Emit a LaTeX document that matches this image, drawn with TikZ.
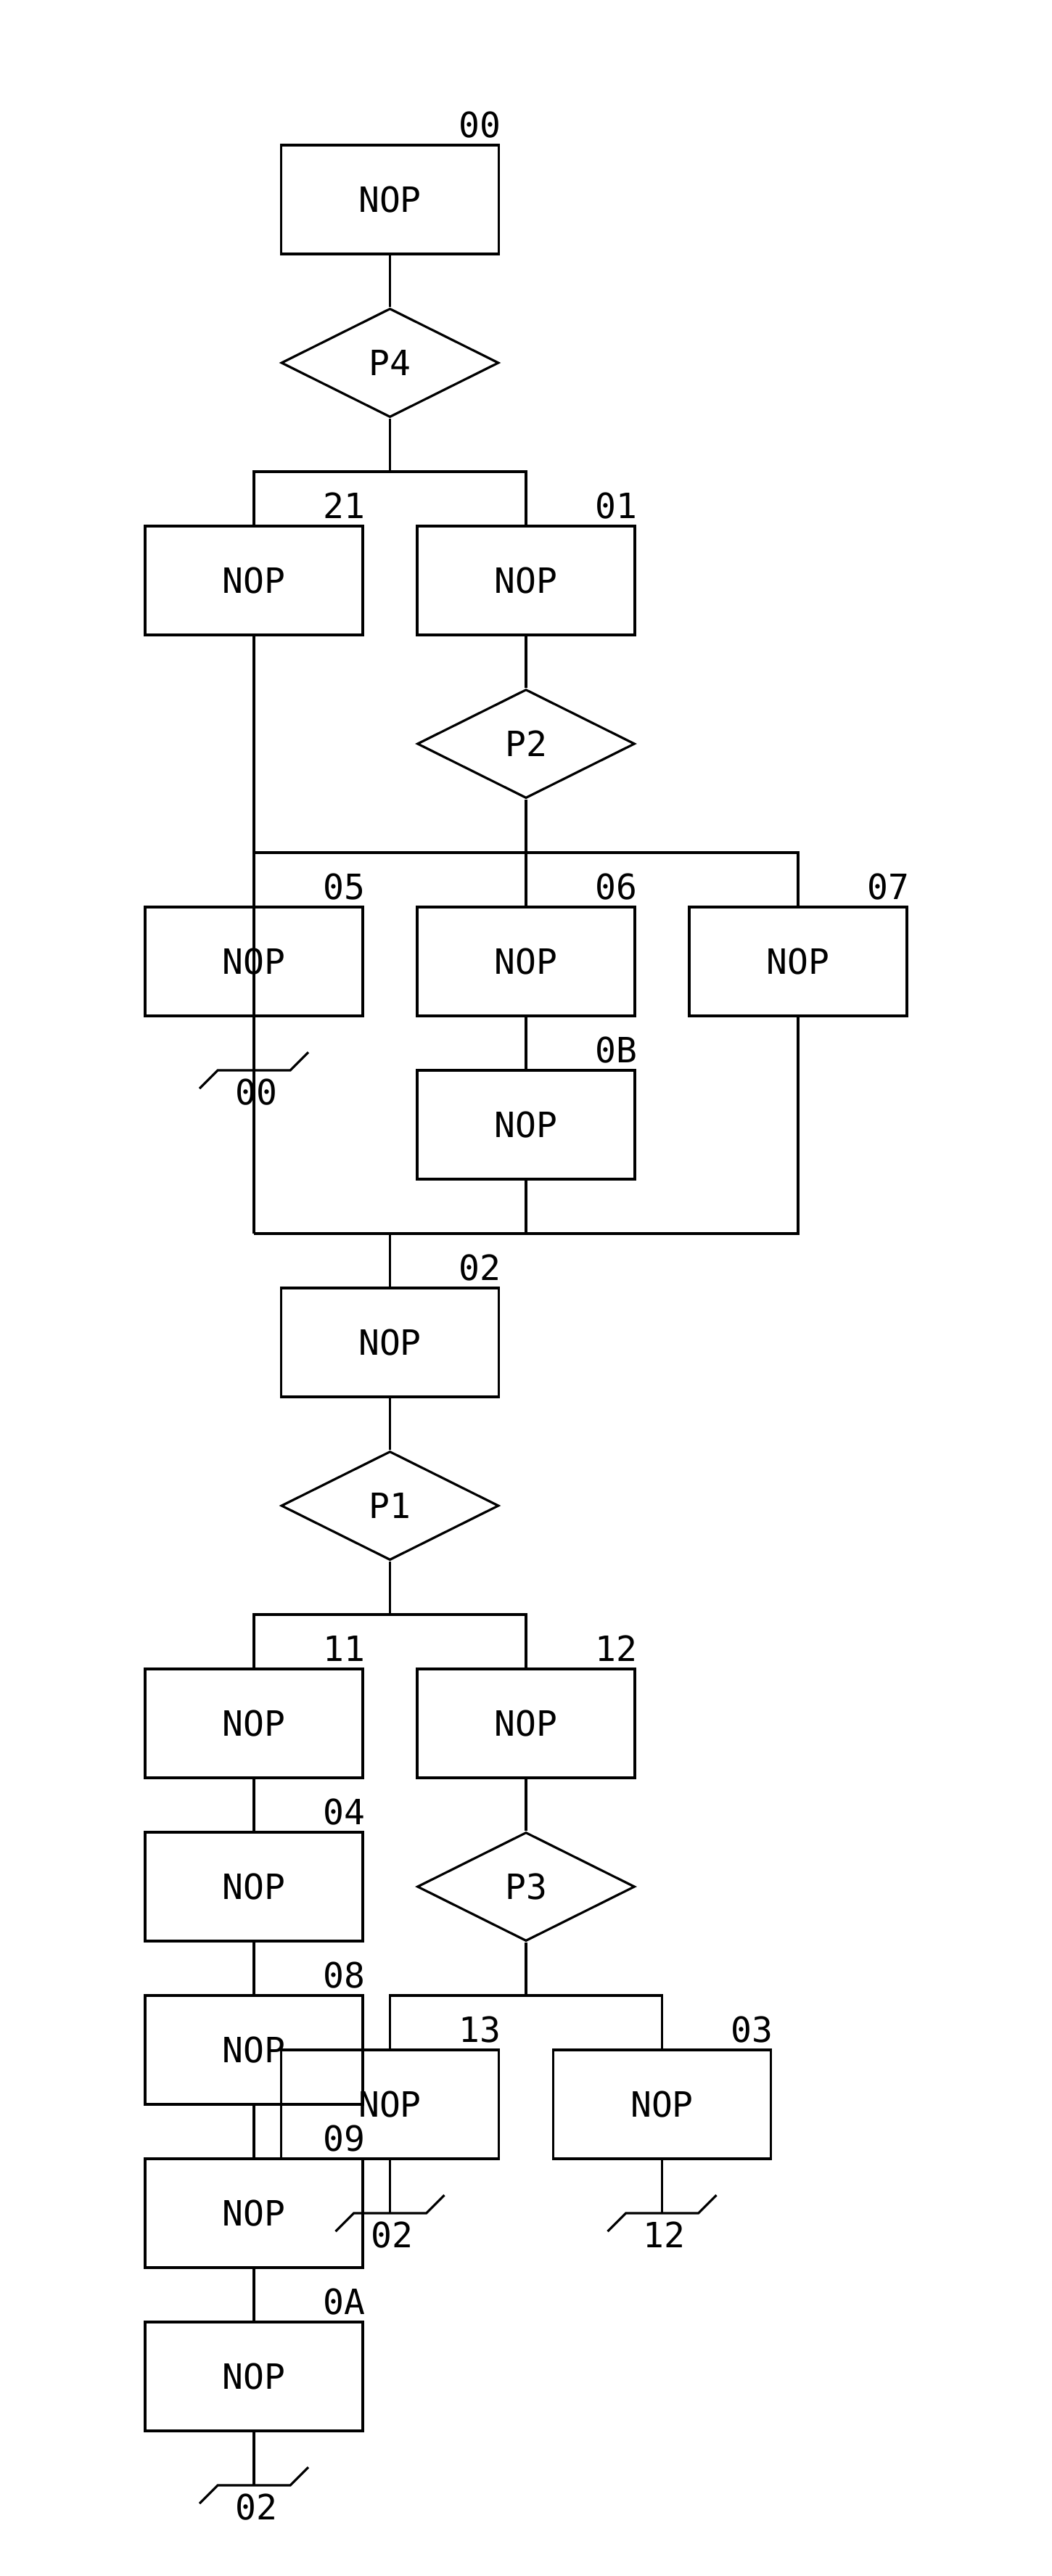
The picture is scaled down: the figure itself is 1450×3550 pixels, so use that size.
\documentclass[tikz,border=0pt]{standalone}
\usepackage{fontspec}
\setmonofont{DejaVu Sans Mono}
\usetikzlibrary{shapes.geometric,calc}
\newcommand\myconn[3]{%
  \coordinate (#1) at #2;
  \draw ($(#1)+(-75,25)$) -- ($(#1)+(-50,0)$) -- ($(#1)+(50,0)$) -- ($(#1)+(75,-25)$);
  \node[conlbl] (#1l) at ($(#1)+(3,30)$) {#3};}
\newcommand\boxlbl[2]{\node[lbl] (l#1) at ($(#1.north east)+(3,-9)$) {#2};}
\begin{document}
\begin{tikzpicture}[x=0.5pt,y=-0.5pt, line width=1.6pt,
  every node/.style={font=\ttfamily\fontsize{24}{28}\selectfont},
  box/.style={draw, rectangle, minimum width=150pt, minimum height=75pt, inner sep=0pt},
  dec/.style={draw, diamond, minimum width=150pt, minimum height=75pt, inner sep=0pt},
  lbl/.style={anchor=base east, inner sep=0pt},
  conlbl/.style={inner sep=0pt}]
\useasboundingbox (0,0) rectangle (1450,3550);
\node[box] (b00) at (537.5,275) {NOP};
\node[dec] (p4) at (537.5,500) {P4};
\node[box] (b21) at (350,800) {NOP};
\node[box] (b01) at (725,800) {NOP};
\node[dec] (p2) at (725,1025) {P2};
\node[box] (b05) at (350,1325) {NOP};
\node[box] (b06) at (725,1325) {NOP};
\node[box] (b07) at (1100,1325) {NOP};
\node[box] (b0B) at (725,1550) {NOP};
\node[box] (b02) at (537.5,1850) {NOP};
\node[dec] (p1) at (537.5,2075) {P1};
\node[box] (b11) at (350,2375) {NOP};
\node[box] (b12) at (725,2375) {NOP};
\node[box] (b04) at (350,2600) {NOP};
\node[dec] (p3) at (725,2600) {P3};
\node[box] (b08) at (350,2825) {NOP};
\node[box] (b13) at (537.5,2900) {NOP};
\node[box] (b03) at (912.5,2900) {NOP};
\node[box] (b09) at (350,3050) {NOP};
\node[box] (b0A) at (350,3275) {NOP};
\boxlbl{b00}{00}
\boxlbl{b21}{21}
\boxlbl{b01}{01}
\boxlbl{b05}{05}
\boxlbl{b06}{06}
\boxlbl{b07}{07}
\boxlbl{b0B}{0B}
\boxlbl{b02}{02}
\boxlbl{b11}{11}
\boxlbl{b12}{12}
\boxlbl{b04}{04}
\boxlbl{b08}{08}
\boxlbl{b13}{13}
\boxlbl{b03}{03}
\boxlbl{b09}{09}
\boxlbl{b0A}{0A}
\coordinate (y1) at (0,650);
\coordinate (y2) at (0,1175);
\coordinate (y3) at (0,1700);
\coordinate (y4) at (0,2225);
\coordinate (y5) at (0,2750);
\draw (b00) -- (p4);
\draw (p4.south) -- (p4.south |- y1);
\draw (b21.north) -- (b21.north |- y1) -- (b01.north |- y1) -- (b01.north);
\draw (b01) -- (p2);
\draw (p2.south) -- (b06.north);
\draw (b21.south) -- (b21.south |- y3);
\draw (b05.north |- y2) -- (b07.north |- y2) -- (b07.north);
\draw (b06) -- (b0B);
\draw (b0B.south) -- (b0B.south |- y3);
\draw (b07.south) -- (b07.south |- y3) -- (b21.south |- y3);
\draw (b02.north |- y3) -- (b02.north);
\draw (b02) -- (p1);
\draw (p1.south) -- (p1.south |- y4);
\draw (b11.north) -- (b11.north |- y4) -- (b12.north |- y4) -- (b12.north);
\draw (b11) -- (b04);
\draw (b04) -- (b08);
\draw (b08.south) -- (b09.north);
\draw (b09) -- (b0A);
\draw (b12) -- (p3);
\draw (p3.south) -- (p3.south |- y5);
\draw (b13.north) -- (b13.north |- y5) -- (b03.north |- y5) -- (b03.north);
\myconn{c05}{(350,1475)}{00}
\myconn{c13}{(537.5,3050)}{02}
\draw (b13.south) -- (c13);
\myconn{c03}{(912.5,3050)}{12}
\draw (b03.south) -- (c03);
\myconn{c0A}{(350,3425)}{02}
\draw (b0A.south) -- (c0A);
\end{tikzpicture}
\end{document}
